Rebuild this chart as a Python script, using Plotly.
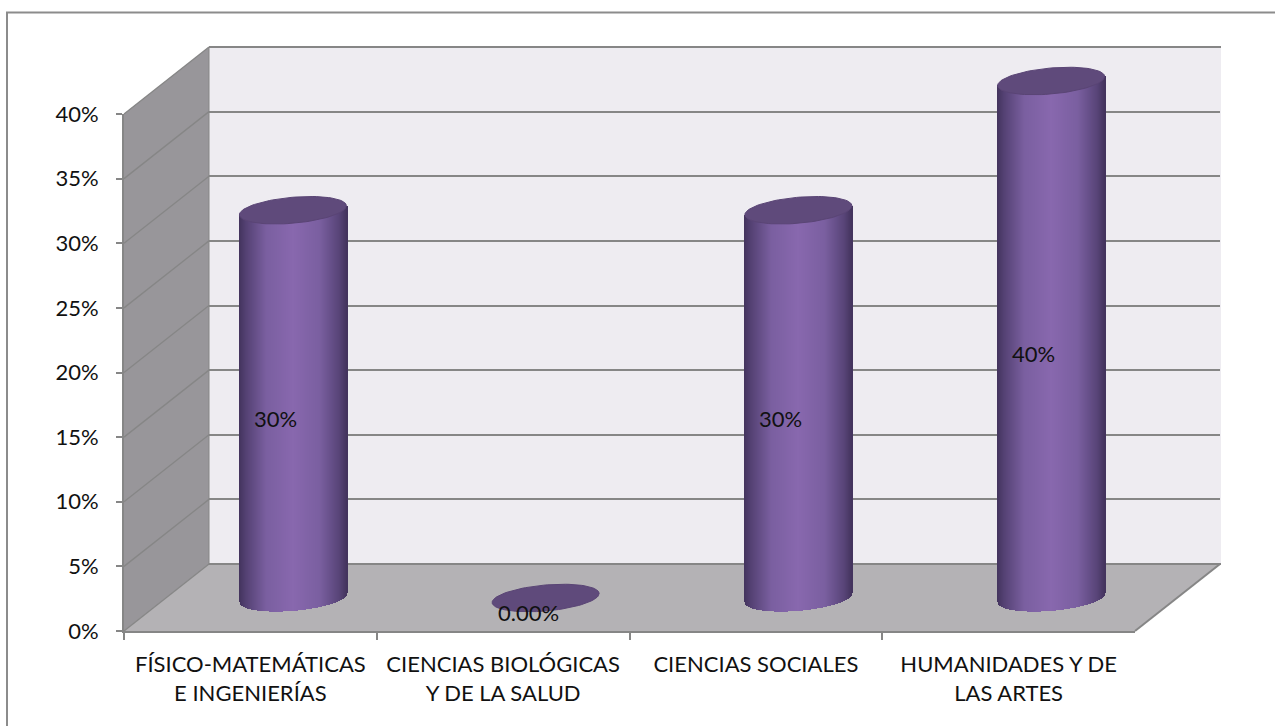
import math
import plotly.graph_objects as go

# ---- data ----
categories = ["FÍSICO-MATEMÁTICAS<br>E INGENIERÍAS", "CIENCIAS BIOLÓGICAS<br>Y DE LA SALUD",
              "CIENCIAS SOCIALES<br> ", "HUMANIDADES Y DE<br>LAS ARTES"]
values = [30, 0, 30, 40]
value_labels = ["30%", "0.00%", "30%", "40%"]
y_ticks = [0, 5, 10, 15, 20, 25, 30, 35, 40]
y_tick_labels = ["0%", "5%", "10%", "15%", "20%", "25%", "30%", "35%", "40%"]

# ---- geometry (pixels) ----
W, H = 1275, 726
FX0, FX1, FY0, FY1 = 124, 1135, 631, 114   # front plane
DX, DY = 85, -67                           # depth vector
MX, MY = 42.5, -33                         # cylinders sit mid-depth
PX_PER_PCT = (FY0 - FY1) / 40
UNIT = (FX1 - FX0) / 4
HALF_W = 53.5
ELL_B = 13.0
ELL_K = 4.5
FONT = "Lato"
FS = 22
GRID = "#868686"
WALL_BACK = "#EEECF1"
WALL_SIDE = "#98969A"
FLOOR = "#B4B2B5"
TOP = "#5F4A7B"

def nx(p): return p / W
def ny(p): return 1 - p / H

def lerp_hex(stops, u):
    for (a, ca), (b, cb) in zip(stops, stops[1:]):
        if u <= b:
            f = (u - a) / (b - a)
            return "rgb(%d,%d,%d)" % tuple(round(x + (y - x) * f) for x, y in zip(ca, cb))
    return "rgb(%d,%d,%d)" % stops[-1][1]

GRAD = [(0.0, (68, 52, 94)), (0.06, (84, 65, 115)), (0.25, (122, 95, 160)), (0.5, (136, 104, 174)),
        (0.75, (122, 95, 160)), (0.93, (88, 68, 120)), (1.0, (68, 52, 94))]

def poly(points):
    return "M" + "L".join(f"{nx(x):.5f},{ny(y):.5f}" for x, y in points) + "Z"

def pline(x0, y0, x1, y1, width, color=GRID):
    return dict(type="line", xref="paper", yref="paper", layer="below", line=dict(width=width, color=color),
                x0=nx(x0), y0=ny(y0), x1=nx(x1), y1=ny(y1))

shapes = [
    dict(type="path", xref="paper", yref="paper", layer="below", line=dict(width=0), fillcolor=WALL_BACK,
         path=poly([(FX0 + DX, FY1 + DY), (FX1 + DX + 1, FY1 + DY), (FX1 + DX + 1, FY0 + DY), (FX0 + DX, FY0 + DY)])),
    dict(type="path", xref="paper", yref="paper", layer="below", line=dict(width=0), fillcolor=WALL_SIDE,
         path=poly([(FX0, FY1), (FX0 + DX, FY1 + DY), (FX0 + DX, FY0 + DY), (FX0, FY0)])),
    dict(type="path", xref="paper", yref="paper", layer="below", line=dict(width=0), fillcolor=FLOOR,
         path=poly([(FX0, FY0), (FX0 + DX, FY0 + DY), (FX1 + DX, FY0 + DY), (FX1, FY0)])),
    # outer frame (runs off the right and bottom of the picture)
    dict(type="rect", xref="paper", yref="paper", layer="below", line=dict(width=2, color="#8C8C8C"),
         fillcolor="rgba(0,0,0,0)", x0=nx(7), x1=nx(1290), y0=ny(740), y1=ny(12.5)),
    pline(FX1, FY0, FX1 + DX, FY0 + DY, 2),
    pline(FX0 + DX, FY1 + DY, FX0 + DX, FY0 + DY, 1),
    pline(FX0 + DX, FY1 + DY, FX1 + DX + 1, FY1 + DY, 2),
    pline(FX0 + DX, FY0 + DY, FX1 + DX + 1, FY0 + DY, 2),
]
for t in y_ticks:
    yf = FY0 - t * PX_PER_PCT
    shapes.append(pline(FX0, yf, FX0 + DX, yf + DY, 1.3))

fig = go.Figure()

# back-wall gridlines
fig.add_trace(go.Scatter(x=[0, 1], y=[0, 40], mode="markers", marker=dict(opacity=0), xaxis="x", yaxis="y",
                         hoverinfo="skip", showlegend=False))
# front axes with labels
fig.add_trace(go.Scatter(x=categories, y=values, mode="markers", marker=dict(opacity=0), xaxis="x2", yaxis="y2",
                         hoverinfo="skip", showlegend=False))

# cylinders: one bar per pixel-wide vertical strip, shaded across the width
N = int(2 * HALF_W)
for i, v in enumerate(values):
    if v <= 0:
        continue
    xs, bases, heights, cols = [], [], [], []
    for s in range(N + 1):
        u = -1 + 2 * s / N
        low = (ELL_K * u - ELL_B * math.sqrt(max(0, 1 - u * u))) / PX_PER_PCT
        top = v + ELL_K * u / PX_PER_PCT
        xs.append(i + u * HALF_W / UNIT)
        bases.append(low)
        heights.append(top - low)
        cols.append(lerp_hex(GRAD, (u + 1) / 2))
    fig.add_trace(go.Bar(x=xs, y=heights, base=bases, width=1.7 / UNIT, marker=dict(color=cols, line=dict(width=0)),
                         xaxis="x3", yaxis="y3", hoverinfo="skip", showlegend=False))

# cylinder tops (tilted ellipses)
for i, v in enumerate(values):
    ex, ey = [], []
    for d in range(0, 361, 4):
        t = math.radians(d)
        ex.append(i + math.cos(t) * HALF_W / UNIT)
        ey.append(v + (ELL_K * math.cos(t) + ELL_B * math.sin(t)) / PX_PER_PCT)
    fig.add_trace(go.Scatter(x=ex, y=ey, mode="lines", fill="toself", fillcolor=TOP,
                             line=dict(color="#5A4575", width=1), xaxis="x3", yaxis="y3",
                             hoverinfo="skip", showlegend=False))

annotations = []
for i, (v, lab) in enumerate(zip(values, value_labels)):
    annotations.append(dict(x=i, y=v / 2, xref="x3", yref="y3", text=lab, showarrow=False,
                            xshift=-17.5, yshift=-14, font=dict(family=FONT, size=FS, color="#111111")))

YMIN3, YMAX3 = -4, 42
base3 = FY0 + MY
fig.update_layout(
    template="none",
    width=W, height=H, margin=dict(l=0, r=0, t=0, b=0, autoexpand=False), autosize=False,
    paper_bgcolor="white", plot_bgcolor="rgba(0,0,0,0)", barmode="overlay", bargap=0,
    showlegend=False, shapes=shapes, annotations=annotations,
    font=dict(family=FONT, size=FS, color="#111111"),
    xaxis=dict(domain=[nx(FX0 + DX), nx(FX1 + DX)], range=[0, 1], visible=False, anchor="y", fixedrange=True),
    yaxis=dict(domain=[ny(FY0 + DY), ny(FY1 + DY)], range=[0, 40], dtick=5, showgrid=True, gridcolor=GRID, gridwidth=2,
               showticklabels=False, ticks="", zeroline=False,
               showline=False, anchor="x", fixedrange=True),
    xaxis2=dict(domain=[nx(FX0), nx(FX1)], type="category", categoryorder="array", categoryarray=categories,
                range=[-0.5, 3.5], autorange=False,
                tickson="boundaries", ticks="outside", ticklen=7, tickwidth=2, tickcolor=GRID,
                showline=True, linecolor=GRID, linewidth=2, showgrid=False, zeroline=False, anchor="y2",
                tickfont=dict(family=FONT, size=FS), fixedrange=True, tickangle=0, ticklabelstandoff=13),
    yaxis2=dict(domain=[ny(FY0), ny(FY1)], range=[0, 40], tickmode="array", tickvals=y_ticks, ticktext=y_tick_labels,
                ticks="outside", ticklen=6, tickwidth=2, tickcolor=GRID, showline=True, linecolor=GRID, linewidth=2,
                showgrid=False, zeroline=False, anchor="x2", tickfont=dict(family=FONT, size=FS), fixedrange=True,
                ticklabelstandoff=13),
    xaxis3=dict(domain=[nx(FX0 + MX), nx(FX1 + MX)], range=[-0.5, 3.5], visible=False, anchor="y3", fixedrange=True),
    yaxis3=dict(domain=[ny(base3 - YMIN3 * PX_PER_PCT), ny(base3 - YMAX3 * PX_PER_PCT)], range=[YMIN3, YMAX3],
                visible=False, anchor="x3", fixedrange=True),
)

fig.write_html("out.html", config=dict(displayModeBar=False),
               post_script="document.body.style.margin='0';document.body.style.overflow='hidden';")
